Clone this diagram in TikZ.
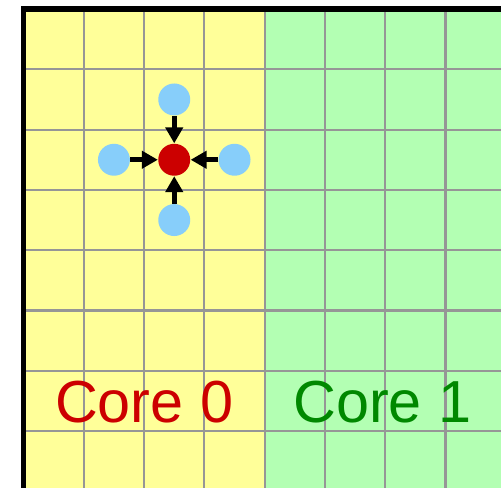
\documentclass[tikz,border=0pt]{standalone}
\usepackage{fontspec}
\setmainfont{Liberation Sans}
\usetikzlibrary{arrows.meta}
\definecolor{coreyellow}{RGB}{255,255,153}
\definecolor{coregreen}{RGB}{179,255,179}
\definecolor{gridgray}{RGB}{150,150,150}
\definecolor{siteblue}{RGB}{135,206,250}
\definecolor{sitered}{RGB}{204,0,0}
\definecolor{labelgreen}{RGB}{0,136,0}

\begin{document}
\begin{tikzpicture}[scale=1]
	\tikzset{cell/.style = {draw=gridgray, line width=1pt}}
	\tikzset{site/.style = {circle, fill=siteblue, minimum size=0.53cm, inner sep=0}}
	\tikzset{centre/.style = {circle, fill=sitered, minimum size=0.53cm, inner sep=0}}
	\tikzset{flow/.style = {line width=2.3pt, -{Triangle[length=7.5pt,width=8pt]}}}
	\tikzset{corelabel/.style = {font=\fontsize{28}{33}\selectfont, inner sep=0}}

	\useasboundingbox (-0.39,0.15) rectangle (7.92,-7.94);
	\clip (-0.39,0.15) rectangle (7.92,-7.94);

	% cores
	\fill[coreyellow] (0,0) rectangle (4,-8);
	\fill[coregreen] (4,0) rectangle (8,-8);
	\draw[cell] (0,-8) grid (8,0);
	\draw[line width=2.4pt] (0,-8) -- (0,0) -- (8,0);

	% vertices
	\node[centre] (c) at (2.5,-2.5) {};
	\node[site] (n) at (2.5,-1.5) {};
	\node[site] (s) at (2.5,-3.5) {};
	\node[site] (w) at (1.5,-2.5) {};
	\node[site] (e) at (3.5,-2.5) {};

	% edges
	\draw[flow] (n) to (c);
	\draw[flow] (s) to (c);
	\draw[flow] (w) to (c);
	\draw[flow] (e) to (c);

	% labels
	\node[corelabel, text=sitered] (core0) at (2.0,-6.52) {Core 0};
	\node[corelabel, text=labelgreen] (core1) at (5.95,-6.52) {Core 1};
\end{tikzpicture}
\end{document}
